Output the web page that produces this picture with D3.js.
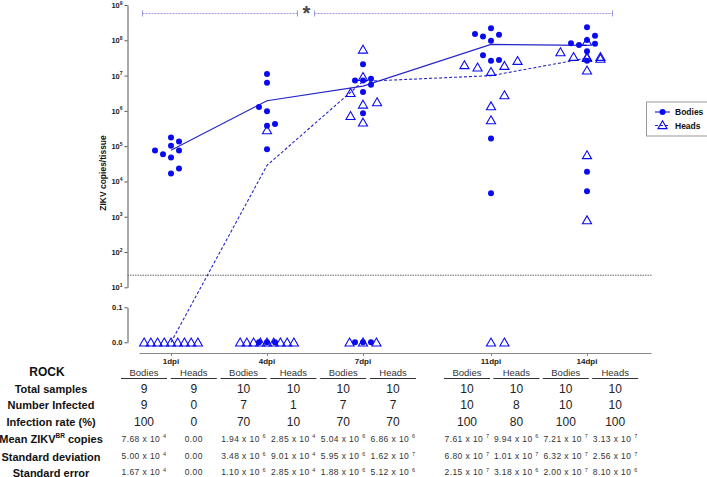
<!DOCTYPE html>
<html><head><meta charset="utf-8">
<script src="https://cdn.jsdelivr.net/npm/d3@7"></script>
<style>body{margin:0;background:#fff} svg{display:block;font-family:"Liberation Sans",Arial,sans-serif}</style>
</head><body><svg id="c" width="707" height="477"></svg>
<script>
// ---------- DATA ----------
const days = [1, 4, 7, 11, 14];
const dayLabels = ["1dpi", "4dpi", "7dpi", "11dpi", "14dpi"];
const yTickExps = [1, 2, 3, 4, 5, 6, 7, 8, 9];
const lowTicks = [0, 0.1];
const detectionLimit = 22;
// [day, jitter (days), copies]
const bodiesPoints = [
  [1,0,1.77e5],[1,0.25,1.36e5],[1,0,1.02e5],[1,-0.5,7.55e4],[1,0.25,7.55e4],[1,-0.25,5.93e4],[1,0,4.78e4],[1,0.25,2.33e4],[1,0,1.68e4],
  [4,0,1.10e7],[4,0,6.25e6],[4,-0.25,1.28e6],[4,0,9.8e5],[4,0,3.78e5],[4,0.25,4.21e5],[4,0,8.2e4],[4,-0.25,0],[4,0,0],[4,0.25,0],
  [7,0,2.08e7],[7,-0.25,7.3e6],[7,0,7.3e6],[7,0.25,8.1e6],[7,0.25,5.48e6],[7,0,3.4e6],[7,0,8.5e5],[7,-0.25,0],[7,0,0],[7,0.25,0],
  [11,0,2.18e8],[11,-0.5,1.50e8],[11,-0.25,1.29e8],[11,0.25,1.44e8],[11,0,9.7e7],[11,-0.25,3.74e7],[11,0,2.63e7],[11,0.25,2.75e7],[11,0,1.65e5],[11,0,4.6e3],
  [14,0,2.33e8],[14,0.25,1.35e8],[14,0,1.02e8],[14,-0.5,8.2e7],[14,-0.25,7.33e7],[14,0.25,7.98e7],[14,0,4.86e7],[14,0,2.63e7],[14,0,1.87e4],[14,0,5.3e3]
];
const headsPoints = [
  [1,-0.84,0],[1,-0.63,0],[1,-0.42,0],[1,-0.21,0],[1,0,0],[1,0.21,0],[1,0.42,0],[1,0.63,0],[1,0.84,0],
  [4,0,2.85e5],[4,-0.84,0],[4,-0.63,0],[4,-0.42,0],[4,-0.21,0],[4,0,0],[4,0.21,0],[4,0.42,0],[4,0.63,0],[4,0.84,0],
  [7,0,5.5e7],[7,0,9.2e6],[7,-0.39,3.25e6],[7,0.44,1.77e6],[7,0,1.52e6],[7,-0.39,7.24e5],[7,0,4.7e5],[7,-0.42,0],[7,0,0],[7,0.42,0],
  [11,-0.83,1.99e7],[11,-0.42,1.71e7],[11,0,1.28e7],[11,0.42,1.90e7],[11,0.83,2.63e7],[11,0.42,2.8e6],[11,0,1.36e6],[11,0,5.47e5],[11,0,0],[11,0.42,0],
  [14,-0.83,4.64e7],[14,-0.42,3.41e7],[14,0,9.2e7],[14,0,3.35e7],[14,0.42,3.41e7],[14,0.42,3.03e7],[14,0,3.2e7],[14,0,1.41e7],[14,0,5.6e4],[14,0,8e2]
];
const bodiesMean = [7.68e4, 1.94e6, 5.04e6, 7.61e7, 7.21e7];
const headsMean = [0, 2.85e4, 6.86e6, 9.94e6, 3.13e7];

// table (columns alternate Bodies / Heads per day)
const colHeaders = ["Bodies","Heads","Bodies","Heads","Bodies","Heads","Bodies","Heads","Bodies","Heads"];
const totalSamples = [9,9,10,10,10,10,10,10,10,10];
const numberInfected = [9,0,7,1,7,7,10,8,10,10];
const infectionRate = [100,0,70,10,70,70,100,80,100,100];
const meanCopies = [["7.68",4],["0.00"],["1.94",6],["2.85",4],["5.04",6],["6.86",6],["7.61",7],["9.94",6],["7.21",7],["3.13",7]];
const stdDev = [["5.00",4],["0.00"],["3.48",6],["9.01",4],["5.95",6],["1.62",7],["6.80",7],["1.01",7],["6.32",7],["2.56",7]];
const stdErr = [["1.67",4],["0.00"],["1.10",6],["2.85",4],["1.88",6],["5.12",6],["2.15",7],["3.18",6],["2.00",7],["8.10",6]];

// ---------- DRAW ----------
const svg = d3.select("#c");
const blue = "#0a0aee";
const lineBlue = "#2626c8";
const x = d3.scaleLinear().domain([0, 16]).range([139, 651]);
const yLog = d3.scaleLog().domain([10, 1e9]).range([287.3, 5]);
const yLow = d3.scaleLinear().domain([0, 0.1]).range([342.3, 307.3]);
const y = v => v > 0 ? yLog(v) : yLow(0);
const axisX = 127.5;

// Y axis (log part)
const gy = svg.append("g").attr("transform", `translate(${axisX},0)`);
gy.call(d3.axisLeft(yLog).tickValues(yTickExps.map(e => Math.pow(10, e))).tickFormat("").tickSize(3).tickSizeOuter(0));
gy.selectAll("path,line").attr("stroke", "#555");
yTickExps.forEach(e => {
  const t = svg.append("text").attr("x", axisX - 5).attr("y", yLog(Math.pow(10, e)) + 3)
    .attr("text-anchor", "end").attr("font-size", 7.5).attr("font-weight", "bold").attr("fill", "#222");
  t.append("tspan").text("10");
  t.append("tspan").attr("dy", -3.5).attr("font-size", 5).text(e);
});
// Y axis (zero part)
const gy2 = svg.append("g").attr("transform", `translate(${axisX},0)`);
gy2.call(d3.axisLeft(yLow).tickValues(lowTicks).tickFormat(d3.format(".1f")).tickSize(3).tickSizeOuter(0));
gy2.selectAll("path,line").attr("stroke", "#555");
gy2.selectAll("text").attr("font-size", 7.5).attr("font-weight", "bold").attr("fill", "#222")
  .attr("font-family", '"Liberation Sans",Arial,sans-serif').attr("x", -5);

// Y title
svg.append("text").attr("transform", `translate(106,173) rotate(-90)`).attr("text-anchor", "middle")
  .attr("font-size", 8.5).attr("font-weight", "bold").attr("fill", "#111").text("ZIKV copies/tissue");

// X axis
const gx = svg.append("g").attr("transform", "translate(0,353)");
gx.call(d3.axisBottom(x).tickValues(days).tickFormat("").tickSize(3).tickSizeOuter(0));
gx.selectAll("path,line").attr("stroke", "#888");
days.forEach((d, i) => {
  svg.append("text").attr("x", x(d)).attr("y", 364).attr("text-anchor", "middle")
    .attr("font-size", 8).attr("font-weight", "bold").attr("fill", "#222").text(dayLabels[i]);
});

// detection limit
svg.append("line").attr("x1", axisX).attr("x2", 652).attr("y1", yLog(detectionLimit)).attr("y2", yLog(detectionLimit))
  .attr("stroke", "#666").attr("stroke-width", 1).attr("stroke-dasharray", "1.5,1");

// significance bracket
const sig = svg.append("g").attr("stroke", "#9a9ae0").attr("stroke-width", 1);
[[142.5, 297.5], [314.5, 612.5]].forEach(([a, b]) => {
  sig.append("line").attr("x1", a).attr("x2", b).attr("y1", 13.5).attr("y2", 13.5).attr("stroke-dasharray", "2,1");
  sig.append("line").attr("x1", a).attr("x2", a).attr("y1", 10.5).attr("y2", 16.5);
  sig.append("line").attr("x1", b).attr("x2", b).attr("y1", 10.5).attr("y2", 16.5);
});
svg.append("text").attr("x", 306.5).attr("y", 19.5).attr("text-anchor", "middle").attr("font-size", 20)
  .attr("font-weight", "bold").attr("fill", "#444").text("*");

// mean lines
const line = d3.line().x(d => x(d[0])).y(d => y(d[1]));
svg.append("path").datum(days.map((d, i) => [d, bodiesMean[i]])).attr("d", line)
  .attr("fill", "none").attr("stroke", lineBlue).attr("stroke-width", 1.2);
svg.append("path").datum(days.map((d, i) => [d, headsMean[i]])).attr("d", line)
  .attr("fill", "none").attr("stroke", lineBlue).attr("stroke-width", 1.1).attr("stroke-dasharray", "3,2");

// points
svg.append("g").selectAll("circle").data(bodiesPoints).join("circle")
  .attr("cx", d => x(d[0] + d[1])).attr("cy", d => y(d[2])).attr("r", 3).attr("fill", blue);
const tri = d3.symbol().type(d3.symbolTriangle).size(36);
svg.append("g").selectAll("path").data(headsPoints).join("path")
  .attr("d", tri).attr("transform", d => `translate(${x(d[0] + d[1])},${y(d[2]) + 1})`)
  .attr("fill", "none").attr("stroke", blue).attr("stroke-width", 1.1);

// legend
const lg = svg.append("g");
lg.append("rect").attr("x", 646.5).attr("y", 102).attr("width", 61).attr("height", 34)
  .attr("fill", "#fff").attr("stroke", "#999");
lg.append("line").attr("x1", 655).attr("x2", 670).attr("y1", 112).attr("y2", 112).attr("stroke", lineBlue).attr("stroke-width", 1.2);
lg.append("circle").attr("cx", 662.5).attr("cy", 112).attr("r", 3).attr("fill", blue);
lg.append("line").attr("x1", 655).attr("x2", 670).attr("y1", 125.5).attr("y2", 125.5).attr("stroke", lineBlue).attr("stroke-width", 1.1).attr("stroke-dasharray", "3,2");
lg.append("path").attr("d", tri).attr("transform", "translate(662.5,126)").attr("fill", "none").attr("stroke", blue).attr("stroke-width", 1.1);
lg.append("text").attr("x", 675).attr("y", 115).attr("font-size", 8.5).attr("font-weight", "bold").attr("fill", "#111").text("Bodies");
lg.append("text").attr("x", 675).attr("y", 128.5).attr("font-size", 8.5).attr("font-weight", "bold").attr("fill", "#111").text("Heads");

// table
const colX = i => i < 6 ? 144 + 49.8 * i : 467 + 49.4 * (i - 6);
const labelX = 51;
const rows = [
  {label: "Total samples", y: 392.5, vals: totalSamples},
  {label: "Number Infected", y: 409.3, vals: numberInfected},
  {label: "Infection rate (%)", y: 426, vals: infectionRate},
  {label: "Mean ZIKV", sup: "BR", tail: " copies", y: 443, sci: meanCopies},
  {label: "Standard deviation", y: 460.5, sci: stdDev},
  {label: "Standard error", y: 476.5, sci: stdErr}
];
svg.append("text").attr("x", 47).attr("y", 376).attr("text-anchor", "middle").attr("font-size", 12)
  .attr("font-weight", "bold").attr("fill", "#111").text("ROCK");
colHeaders.forEach((h, i) => {
  svg.append("text").attr("x", colX(i)).attr("y", 375.5).attr("text-anchor", "middle").attr("font-size", 9.5)
    .attr("fill", "#333").text(h);
  svg.append("line").attr("x1", colX(i) - 23).attr("x2", colX(i) + 23).attr("y1", 378.5).attr("y2", 378.5)
    .attr("stroke", "#333").attr("stroke-width", 1);
});
rows.forEach(r => {
  const t = svg.append("text").attr("x", labelX).attr("y", r.y).attr("text-anchor", "middle").attr("font-size", 11)
    .attr("font-weight", "bold").attr("fill", "#111");
  t.append("tspan").text(r.label);
  if (r.sup) {
    t.append("tspan").attr("dy", -5).attr("font-size", 6.5).text(r.sup);
    t.append("tspan").attr("dy", 5).text(r.tail);
  }
  if (r.vals) {
    r.vals.forEach((v, i) => {
      svg.append("text").attr("x", colX(i)).attr("y", r.y).attr("text-anchor", "middle").attr("font-size", 12)
        .attr("fill", "#222").text(v);
    });
  } else {
    r.sci.forEach((v, i) => {
      const s = svg.append("text").attr("x", colX(i)).attr("y", r.y - 1.5).attr("text-anchor", "middle")
        .attr("font-size", 8.5).attr("letter-spacing", 0.4).attr("fill", "#333");
      if (v.length === 1) { s.text(v[0]); return; }
      s.append("tspan").text(v[0] + " x 10 ");
      s.append("tspan").attr("dy", -3.5).attr("font-size", 5.5).text(v[1]);
    });
  }
});
</script>
</body></html>
